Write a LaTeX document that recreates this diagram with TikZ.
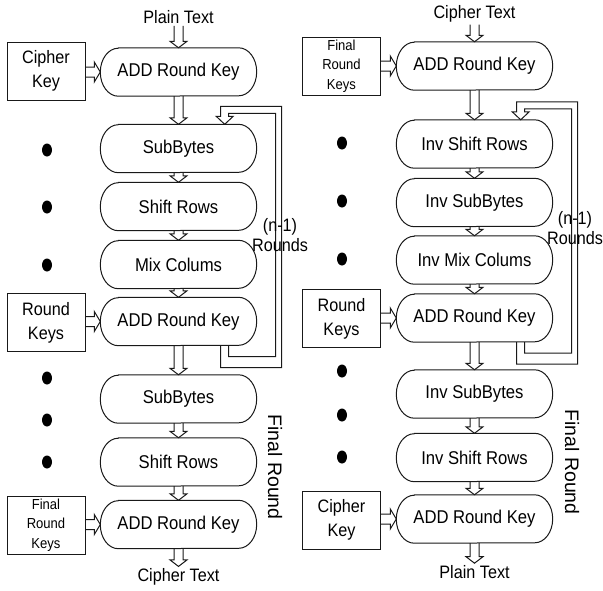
\documentclass[tikz,border=0pt]{standalone}
\usepackage{fontspec}
\setmainfont{Liberation Sans}[FakeStretch=0.9]
\newfontfamily\uprightsans{Liberation Sans}
\usetikzlibrary{calc}

\tikzset{
  line/.style={draw=black!90, line width=1pt},
  stagetext/.style={minimum width=156pt, minimum height=48pt, inner sep=0pt,
    font=\fontsize{18.5}{20}\selectfont},
  keybox/.style={line, minimum width=78pt, minimum height=58pt, inner sep=0pt,
    align=center, font=\fontsize{18}{24}\selectfont},
  smallkey/.style={keybox, font=\fontsize{14.5}{19.5}\selectfont},
  flowlabel/.style={inner sep=2pt, font=\fontsize{18}{20}\selectfont},
  roundsnote/.style={align=center, inner sep=0pt, font=\fontsize{18}{20}\selectfont},
  finalnote/.style={rotate=-90, inner sep=0pt, font=\uprightsans\fontsize{19.5}{20}\selectfont},
}

% a stage: rectangle with elliptical ends
\newcommand\stage[4]{%
  \node[stagetext] (#1) at (#2,#3) {#4};
  \draw[line] ([xshift=18pt]#1.north west) -- ([xshift=-18pt]#1.north east)
    arc[start angle=90, end angle=-90, x radius=18pt, y radius=24pt]
    -- ([xshift=18pt]#1.south west)
    arc[start angle=270, end angle=90, x radius=18pt, y radius=24pt] -- cycle;
}

% hollow block arrow pointing down, from #1.south to #2.north
\newcommand\vflow[2]{%
  \draw[line] let \p1=(#1.south), \p2=(#2.north) in
    (\x1-4.5pt,\y1) -- (\x1-4.5pt,\y2+6.5pt) -- (\x1-8.5pt,\y2+6.5pt) -- (\x1,\y2)
    -- (\x1+8.5pt,\y2+6.5pt) -- (\x1+4.5pt,\y2+6.5pt) -- (\x1+4.5pt,\y1);
}

% hollow block arrow pointing right, from #1.east to #2.west
\newcommand\hflow[2]{%
  \draw[line] let \p1=(#1.east), \p2=(#2.west) in
    (\x1,\y2+5pt) -- (\x2-6pt,\y2+5pt) -- (\x2-6pt,\y2+10pt) -- (\x2,\y2)
    -- (\x2-6pt,\y2-10pt) -- (\x2-6pt,\y2-5pt) -- (\x1,\y2-5pt);
}

% hollow loop arrow from the bottom of #1 back to the top of #2
\newcommand\loopback[2]{%
  \draw[line] let \p1=(#1.south east), \p2=(#2.north east) in
    (\x1-36pt,\y1) -- (\x1-36pt,\y1-22pt) -- (\x1+25pt,\y1-22pt)
    -- (\x1+25pt,\y2+18pt) -- (\x1-36pt,\y2+18pt) -- (\x1-36pt,\y2+8pt)
    -- (\x1-40.5pt,\y2+8pt) -- (\x1-32pt,\y2) -- (\x1-23.5pt,\y2+8pt)
    -- (\x1-28pt,\y2+8pt) -- (\x1-28pt,\y2+11pt) -- (\x1+19pt,\y2+11pt)
    -- (\x1+19pt,\y1-11pt) -- (\x1-28pt,\y1-11pt) -- (\x1-28pt,\y1);
}

\newcommand\bigdot[2]{\fill[black] (#1,#2) ellipse[x radius=5pt, y radius=6.5pt];}

\begin{document}
\begin{tikzpicture}[x=1pt, y=-1pt]
\useasboundingbox (0,0) rectangle (603,590);

% ---------------- encryption ----------------
\node[flowlabel] (pt) at (178.5,17) {Plain Text};
\stage{ea}{178.5}{72}{ADD Round Key}
\stage{eb}{178.5}{148.5}{SubBytes}
\stage{ec}{178.5}{206.5}{Shift Rows}
\stage{ed}{178.5}{264.5}{Mix Colums}
\stage{ee}{178.5}{321.5}{ADD Round Key}
\stage{ef}{178.5}{399}{SubBytes}
\stage{eg}{178.5}{462}{Shift Rows}
\stage{eh}{178.5}{524.5}{ADD Round Key}
\node[flowlabel] (ct) at (178.5,577) {Cipher Text};

\node[keybox] (ek1) at (46,71) {Cipher\\Key};
\node[keybox] (ek2) at (46,322.5) {Round\\Keys};
\node[smallkey] (ek3) at (46,525) {Final\\Round\\Keys};

\vflow{pt}{ea}
\vflow{ea}{eb}
\vflow{eb}{ec}
\vflow{ec}{ed}
\vflow{ed}{ee}
\vflow{ee}{ef}
\vflow{ef}{eg}
\vflow{eg}{eh}
\vflow{eh}{ct}
\hflow{ek1}{ea}
\hflow{ek2}{ee}
\hflow{ek3}{eh}
\loopback{ee}{eb}

\node[roundsnote] (en) at (280,235) {(n-1)\\Rounds};
\node[finalnote] (ef2) at (275,467) {Final Round};

\bigdot{47}{150}
\bigdot{47}{207}
\bigdot{47}{265}
\bigdot{47}{378}
\bigdot{47}{420}
\bigdot{47}{462}

% ---------------- decryption ----------------
\node[flowlabel] (ct2) at (474.5,14) {Cipher Text};
\stage{da}{474.5}{66}{ADD Round Key}
\stage{db}{474.5}{144}{Inv Shift Rows}
\stage{dc}{474.5}{202.5}{Inv SubBytes}
\stage{dd}{474.5}{260}{Inv Mix Colums}
\stage{de}{474.5}{318}{ADD Round Key}
\stage{df}{474.5}{394}{Inv SubBytes}
\stage{dg}{474.5}{457.5}{Inv Shift Rows}
\stage{dh}{474.5}{519}{ADD Round Key}
\node[flowlabel] (pt2) at (474.5,572) {Plain Text};

\node[smallkey] (dk1) at (341.5,66) {Final\\Round\\Keys};
\node[keybox] (dk2) at (341.5,318.5) {Round\\Keys};
\node[keybox] (dk3) at (341.5,520) {Cipher\\Key};

\vflow{ct2}{da}
\vflow{da}{db}
\vflow{db}{dc}
\vflow{dc}{dd}
\vflow{dd}{de}
\vflow{de}{df}
\vflow{df}{dg}
\vflow{dg}{dh}
\vflow{dh}{pt2}
\hflow{dk1}{da}
\hflow{dk2}{de}
\hflow{dk3}{dh}
\loopback{de}{db}

\node[roundsnote] (dn) at (575,228) {(n-1)\\Rounds};
\node[finalnote] (df2) at (572,462) {Final Round};

\bigdot{342}{143}
\bigdot{342}{201}
\bigdot{342}{259}
\bigdot{342}{371}
\bigdot{342}{415}
\bigdot{342}{457}
\end{tikzpicture}
\end{document}
